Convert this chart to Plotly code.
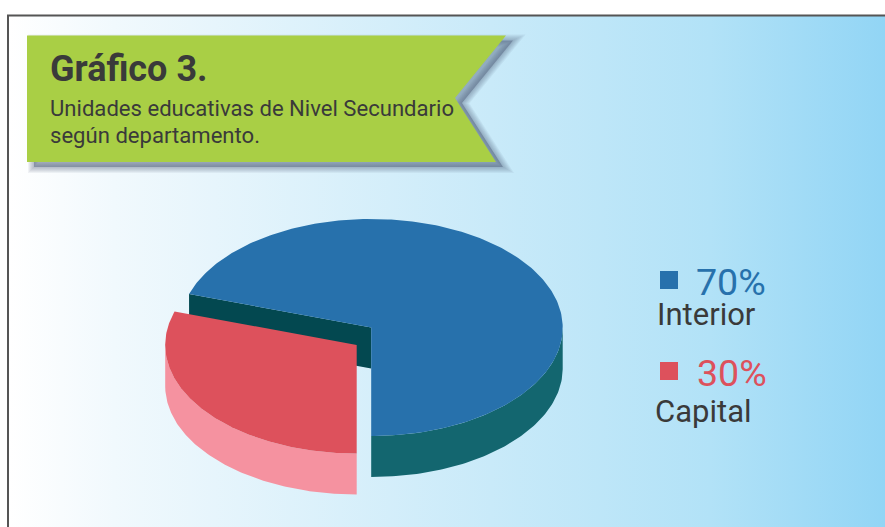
import numpy as np
import plotly.graph_objects as go

categories = ["Interior", "Capital"]
values = [70, 30]
title_text = "Gráfico 3."
subtitle_lines = ["Unidades educativas de Nivel Secundario", "según departamento."]

W, H = 885, 527
TOP = {"Interior": "#2771AC", "Capital": "#DD515C"}
SIDE = {"Interior": "#13666F", "Capital": "#F592A0"}
WALL = "#034850"
INK = "#3A3A3A"
RX, RY, DEPTH = 191.5, 108.5, 41
CX, CY = 371.2, 327.5
EXPLODE = (-14.5, 17.5)

fig = go.Figure()


def poly(xs, ys, color):
    fig.add_trace(go.Scatter(x=list(xs), y=list(ys), mode="lines", fill="toself", fillcolor=color,
                             line=dict(width=0), hoverinfo="skip", showlegend=False))


# background panel with horizontal gradient
fig.add_trace(go.Scatter(
    x=[9, W, W, 9, 9], y=[16, 16, H, H, 16], mode="lines", fill="toself",
    line=dict(width=0), hoverinfo="skip", showlegend=False,
    fillgradient=dict(type="horizontal",
                      colorscale=[[0, "#FFFFFF"], [0.12, "#F1F9FD"], [0.55, "#C9EAF9"], [0.8, "#B2E2F7"], [1, "#92D5F5"]]),
))


def point(angle, cx, cy, dz=0):
    # angle measured from "south" going counter-clockwise on screen, as the blue slice runs
    return cx + RX * np.sin(angle), cy + RY * np.cos(angle) + dz


total = sum(values)
a_interior = 2 * np.pi * values[0] / total

# Interior slice
t = np.linspace(0, a_interior, 240)
x_top, y_top = point(t, CX, CY)
xe, ye = point(a_interior, CX, CY)
# back wall of the cut
poly([xe, CX, CX, xe, xe], [ye, CY, CY + DEPTH, ye + DEPTH, ye], WALL)
# rim (only the front half is seen)
tf = t[t <= np.pi / 2]
xf, yf = point(tf, CX, CY)
poly(list(xf) + list(xf[::-1]), list(yf) + list((yf + DEPTH)[::-1]), SIDE["Interior"])
poly([CX] + list(x_top) + [CX], [CY] + list(y_top) + [CY], TOP["Interior"])

# Capital slice (pulled out)
cx2, cy2 = CX + EXPLODE[0], CY + EXPLODE[1]
t2 = np.linspace(a_interior, 2 * np.pi, 160)
x2, y2 = point(t2, cx2, cy2)
rim = t2[t2 >= 1.5 * np.pi]
xr, yr = point(rim, cx2, cy2)
poly(list(xr) + list(xr[::-1]), list(yr) + list((yr + DEPTH)[::-1]), SIDE["Capital"])
poly([cx2] + list(x2) + [cx2], [cy2] + list(y2) + [cy2], TOP["Capital"])

# legend squares
fig.add_trace(go.Scatter(
    x=[669, 669], y=[280, 371], mode="markers", hoverinfo="skip", showlegend=False,
    marker=dict(symbol="square", size=18, color=[TOP[c] for c in categories], line=dict(width=0)),
))

# ribbon
rib_x = [27, 506, 455, 496, 27]
rib_y = [35.5, 35.5, 98, 162, 162]
path = lambda dx, dy: "M " + " L ".join(f"{a+dx},{b+dy}" for a, b in zip(rib_x, rib_y)) + " Z"
shapes = [dict(type="path", xref="x", yref="y", path=path(7, 5), layer="above",
               fillcolor="rgba(70,85,115,0.42)", line=dict(width=0))]
for w in range(12, 0, -2):
    shapes.append(dict(type="path", xref="x", yref="y", path=path(7, 5), layer="above",
                       fillcolor="rgba(0,0,0,0)", line=dict(color="rgba(70,85,115,0.07)", width=w)))
shapes.append(dict(type="path", xref="x", yref="y", path=path(0, 0), layer="above",
                   fillcolor="#A9CF45", line=dict(width=0)))
# frame
shapes.append(dict(type="path", xref="x", yref="y", path=f"M 8,{H+5} L 8,15.5 L {W+5},15.5", layer="above",
                   line=dict(color="#555555", width=2)))

ann = []


def text(x, y, s, size, color, bold=False):
    ann.append(dict(x=x, y=y, xref="x", yref="y", text=f"<b>{s}</b>" if bold else s, showarrow=False,
                    xanchor="left", yanchor="middle",
                    font=dict(family="Roboto", size=size, color=color), borderpad=0))


text(49, 69, title_text, 36, INK, bold=True)
text(49, 108, subtitle_lines[0], 22.1, INK)
text(49, 135, subtitle_lines[1], 22.1, INK)
text(694.5, 282, f"{values[0]}%", 37.6, TOP[categories[0]])
text(656, 314, categories[0], 31, INK)
text(695.5, 373, f"{values[1]}%", 37.6, TOP[categories[1]])
text(654, 411, categories[1], 31, INK)

fig.update_layout(
    width=W, height=H, autosize=False,
    margin=dict(l=0, r=0, t=0, b=0, pad=0),
    paper_bgcolor="#FFFFFF", plot_bgcolor="#FFFFFF",
    showlegend=False, shapes=shapes, annotations=ann,
    xaxis=dict(range=[0, W], visible=False, fixedrange=True),
    yaxis=dict(range=[H, 0], visible=False, fixedrange=True),
)
fig.write_html("out.html", config={"displayModeBar": False},
               post_script="document.body.style.margin='0';")
